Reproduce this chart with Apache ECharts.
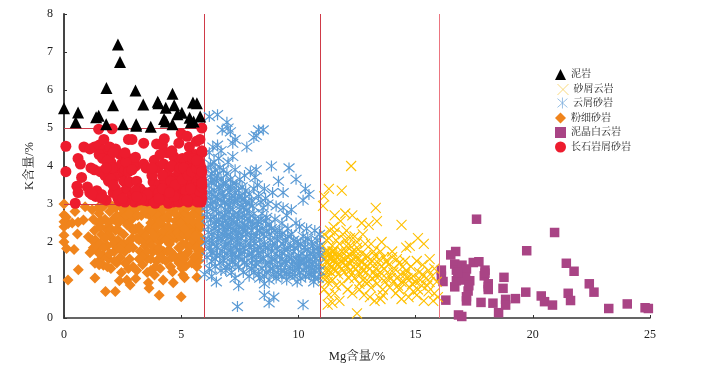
<!DOCTYPE html>
<html><head><meta charset="utf-8">
<script src="https://cdn.jsdelivr.net/npm/echarts@6/dist/echarts.min.js"></script>
<style>html,body{margin:0;background:#fff}#c{width:719px;height:368px}</style></head>
<body><div id="c"></div>
<script>
const xTicksMax = 25, yTicksMax = 8;
const mudstone = [[0,5.52],[.6,5.41],[.5,5.15],[1.37,5.28],[1.48,5.32],[1.8,5.1],[1.81,6.05],[2.09,5.6],[2.3,7.2],[2.39,6.74],[2.52,5.1],[3.05,5.99],[3.08,5.06],[3.08,5.1],[3.38,5.62],[3.7,5.03],[4,5.69],[4.03,5.65],[4.34,5.53],[4.27,5.24],[4.34,5.17],[4.63,5.9],[4.7,5.6],[4.63,5.1],[4.84,5.36],[5.03,5.4],[5.36,5.27],[5.41,5.15],[5.53,5.17],[5.5,5.67],[5.67,5.65],[5.81,5.3]];
const feldspar = [[.08,3.85],[.08,4.52],[.48,3.02],[.55,3.47],[.6,3.3],[.6,4.2],[.7,4.05],[.75,3.7],[.85,4.5],[1,3.45],[1.1,3.3],[1.1,4.45],[1.15,3.95],[1.3,4.5],[1.3,3.9],[1.35,3.2],[1.4,3.35],[1.48,4.97],[1.5,4.55],[1.55,3.85],[1.6,3.25],[1.7,4.42],[1.7,4.7],[1.75,3.75],[1.8,3.1],[1.85,4.35],[1.9,3.6],[1.9,3.85],[1.95,4.5],[2,4.1],[2.05,4.98],[2.1,3.3],[2.2,4.45],[2.25,3.95],[2.3,3.15],[2.35,3.08],[2.4,4.3],[2.45,4.05],[2.5,3.8],[2.55,3.6],[2.55,4.25],[2.6,3.9],[2.65,3.38],[2.7,4.22],[2.75,4.7],[2.8,3.58],[2.8,4.02],[2.9,4.7],[2.9,3.22],[3,3.05],[3.05,4],[3.05,4.23],[3.1,3.3],[3.2,3.1],[3.25,3.2],[3.4,4.6],[3.4,4.05],[3.45,3.3],[3.5,3.95],[3.55,3.08],[3.65,3.3],[3.7,3.2],[3.8,3.58],[3.85,4.15],[3.9,3.02],[3.95,4.58],[3.95,3.3],[4,3.95],[4.05,3.5],[4.1,3.1],[4.15,3.2],[4.2,4.55],[4.25,4.05],[4.28,4.72],[4.3,3.6],[4.3,3.3],[4.4,4.35],[4.45,3.02],[4.5,3.95],[4.55,3.15],[4.6,3.45],[4.65,3.05],[4.68,4.25],[4.75,3.3],[4.8,3.98],[4.85,4.05],[4.9,4.6],[4.9,3.3],[4.95,3.7],[5,4.85],[5.05,3.1],[5.05,4.2],[5.1,3.4],[5.15,4.1],[5.2,3.85],[5.25,3.55],[5.25,4.78],[5.3,3.05],[5.35,3.25],[5.35,4.5],[5.4,4.05],[5.45,3.65],[5.5,3.95],[5.55,3.1],[5.55,3.45],[5.6,4.3],[5.65,4.65],[5.7,3.25],[5.7,3.85],[5.75,3.55],[5.75,4.15],[5.8,4.7],[5.85,3.95],[5.85,3.05],[5.88,5],[5.88,3.3],[5.88,4.35],[5.86,3.65],[5.88,3.15],[5.88,4.4],[3.75,3.75],[3.1,3.6],[1.2,3.25],[2.2,3.4],[2.15,3.7],[4.1,4.3],[5,3.5],[5.15,3.2],[4.4,3.8],[4.7,3.7],[5.5,3.3],[5.6,3.7],[4.3,3.15],[3.6,3.15],[2.9,3.1],[2.6,3.05],[1.6,3.15],[5.8,3.2],[4.85,3.15],[1.5,4.3],[1.65,4.2],[1.85,4.15],[2.1,4.35],[2.05,3.95],[1.8,3.95],[2,3.65],[2.1,3.5],[2.3,3.25],[2.5,3.15],[2.65,4.1],[2.75,3.85],[2.6,4.35],[2.9,3.9],[3.25,3.4],[3.4,3.1],[3.05,3.35],[3.8,3.35],[3.85,3.05],[3.75,3.95],[4.05,3.3],[4.2,3.75],[4.55,3.6],[4.6,4],[4.75,3.5],[4.9,3.85],[4.95,3.95],[5.05,3.65],[5.1,3.95],[5.2,3.35],[5.3,3.75],[5.3,4.25],[5.45,3.15],[5.45,3.85],[5.5,4.2],[5.6,3.2],[5.65,3.95],[5.7,3.05],[5.75,3.35],[5.8,4.05],[5.85,3.75],[5.88,3.45],[5.88,3.85],[5.88,3.55],[5.65,4.15],[4.6,4.4],[4.4,3.1],[4.05,3.15],[3.55,3.25],[3.3,3.15],[4.9,3.05],[5.1,3.1],[5.4,3.4],[5.25,3.1],[4.7,3.2],[4.2,3.4],[3.1,3.2],[4.5,3.3]];
const siltFine = [[.17,1],[.61,1.27],[1.32,1.05],[1.77,.7],[2.19,.7],[2.36,.98],[2.68,1],[2.82,.87],[3.06,1.04],[3.6,.93],[3.63,.78],[3.86,1.13],[4.06,.6],[4.23,1],[4.66,.93],[5,.56],[5.14,1.06],[5.07,1.13],[5.67,1.07],[4.63,1.22],[4.81,1.54],[4.89,1.85],[5.03,1.31],[5.2,1.37],[5.67,1.35],[0,3],[0,2.71],[0,2.53],[0,2.18],[0,2],[.11,1.83],[.43,1.8],[.57,2.21],[0,2.4],[.18,2.49],[.47,2.8],[.9,2.93],[.83,2.58],[1.04,2.14],[1.11,1.72],[1.32,1.44],[1.54,1.53],[1.68,1.39],[.1,2.65],[.35,2.5],[.6,2.52],[1.2,2.85],[1.25,2.6],[1.3,2.3],[1.35,2.05],[1.4,1.8],[1.45,2.5],[1.5,2.75],[1.55,1.95],[1.6,2.2],[1.65,1.65],[1.7,2.95],[1.75,2.6],[1.8,2.35],[1.85,1.9],[1.9,1.55],[1.95,2.8],[2,1.3],[2.05,2.1],[2.15,1.75],[2.2,2.9],[2.25,1.45],[2.3,2.5],[2.35,2.3],[2.4,1.6],[2.45,1.2],[2.5,2.75],[2.55,1.95],[2.6,1.75],[2.62,2.55],[2.7,2.95],[2.75,1.3],[2.8,1.55],[2.85,2.4],[2.9,2.1],[2.95,1.85],[3,2.7],[3.05,2.35],[3.1,1.25],[3.15,2.95],[3.2,2.05],[3.25,1.75],[3.3,2.7],[3.35,1.4],[3.4,2.2],[3.45,1.9],[3.5,2.95],[3.55,1.55],[3.6,2.35],[3.65,2.7],[3.7,1.25],[3.75,2.05],[3.8,1.75],[3.85,2.5],[3.9,2.85],[3.95,1.5],[4,2.2],[4.05,2],[4.1,1.3],[4.15,2.7],[4.2,2.45],[4.25,1.75],[4.3,2.95],[4.35,1.5],[4.4,2.2],[4.45,2.6],[4.5,1.95],[4.55,1.35],[4.6,2.8],[4.65,2.35],[4.7,1.65],[4.75,2.55],[4.8,2.1],[4.85,2.95],[4.9,1.45],[4.95,2.7],[5,2.3],[5.05,1.95],[5.1,2.85],[5.15,1.55],[5.2,2.5],[5.25,2.15],[5.3,1.75],[5.35,2.95],[5.4,2.65],[5.45,1.45],[5.5,2.3],[5.55,1.9],[5.6,2.8],[5.65,2.5],[5.7,1.6],[5.75,2.1],[5.78,2.95],[5.78,1.8],[5.78,2.35],[5.8,2.65],[5.75,1.5],[5.8,2],[2.1,2.6],[2.4,2.95],[2.55,2.2],[2.9,2.6],[3.3,2.95],[3.6,2.05],[3.8,2.25],[4.2,2.1],[4.45,2.9],[4.7,2.9],[4.8,2.4],[5.1,2.6],[5.3,2.4],[5.5,2.7],[5.7,2.45],[5.7,2.9],[5.2,1.95],[5,1.65],[4.4,1.75],[4,1.75],[3.7,1.55],[3.4,1.65],[2.75,2],[2.3,2.05],[1.9,2.2],[2.05,2.95],[2.9,2.9],[3.9,2.65],[4.05,2.95],[4.6,2.05],[1.55,2.4],[1.9,2.5],[1.2,2.05],[1.25,1.85],[1.5,1.7],[1.6,2.55],[1.7,1.85],[1.75,2.1],[1.95,1.7],[2,2.35],[2.1,1.95],[2.2,2.3],[2.25,2.7],[2.3,1.85],[2.4,2.55],[2.45,1.9],[2.55,2.85],[2.65,2.7],[2.7,2.45],[2.8,2.75],[2.8,1.85],[2.95,2.3],[3.05,2.85],[3.1,2.1],[3.15,2.7],[3.2,2.4],[3.3,2.25],[3.35,2.05],[3.5,2.75],[3.5,2.15],[3.55,1.75],[3.7,2.9],[3.7,2.5],[3.75,1.9],[3.85,2.15],[3.95,2.4],[4,2.75],[4.05,1.85],[4.1,2.55],[4.15,1.6],[4.25,2.3],[4.3,2.65],[4.35,2.05],[4.45,2.4],[4.5,2.75],[4.55,2.2],[4.6,1.6],[4.7,2.2],[4.75,2.75],[4.85,2.25],[4.95,2.15],[5,2.5],[5,2.9],[5.1,2.2],[5.15,2.35],[5.2,2.75],[5.25,1.7],[5.35,2.2],[5.4,1.9],[5.45,2.5],[5.5,2.05],[5.55,1.6],[5.55,2.5],[5.65,2.2],[5.65,1.85],[5.75,2.7],[5.75,1.75],[5.78,2.15],[5.8,2.85],[5.8,2.45],[5.78,1.7],[4.95,1.85],[4.55,1.75],[4.2,1.55],[3.9,1.35],[3.55,1.2],[3.2,1.55],[2.95,1.35],[2.6,1.45],[2.4,1.8],[2.15,1.5],[1.85,1.35],[1.5,1.4],[1.45,2.9],[1.6,2.9],[2.6,2.95],[2.95,2.95],[3.45,2.85],[3.75,2.8],[4.2,2.85],[4.55,2.95],[5.25,2.9],[5.5,2.95],[5.6,2.15],[5.3,2.6],[5.78,2.55]];
const cuttings = [[6,1.15],[6.3,1.1],[6.5,.95],[6.9,1.25],[7.3,1.05],[7.45,.85],[7.4,.3],[8.1,1.2],[8.55,.9],[8.55,.6],[8.75,.4],[8.95,.55],[9.3,1.1],[10.2,.35],[10.65,.95],[6.2,5.3],[6.55,5.35],[6.95,5.15],[6.75,4.95],[7,5],[7.1,4.9],[7.3,4.7],[7.2,4.6],[7.8,4.5],[8.1,4.75],[8.3,4.95],[8.5,4.95],[8.2,4.8],[6.4,4.1],[6.6,4.2],[6.8,3.9],[7,4.1],[7.2,4.25],[7.3,3.9],[7.5,3.65],[7.7,3.75],[7.95,3.85],[8.2,3.9],[8.15,3.7],[8.85,4],[9.6,3.95],[9.9,3.65],[10.3,3.4],[10.45,3.25],[10.2,3.1],[6.2,4.35],[6.3,3.8],[6.5,3.6],[6.15,3.5],[6.45,3.9],[6.7,3.65],[6.9,3.55],[7.1,3.45],[7.3,3.3],[7.5,3.2],[7.75,3.35],[8,3.1],[8.3,3.2],[8.5,2.9],[8.7,3],[8.9,3.3],[9.05,2.95],[9.35,2.9],[9.5,2.7],[9.7,2.85],[6.1,3.1],[6.3,3.25],[6.55,3.15],[6.8,3.2],[7,3],[7.25,3.05],[7.55,2.95],[7.8,2.85],[8.1,2.75],[8.4,2.6],[8.6,2.55],[8.75,2.45],[9,2.6],[9.3,2.5],[10.05,2.4],[10.35,2.35],[10.7,2.3],[10.9,2.2],[6.1,2.8],[6.25,2.6],[6.5,2.85],[6.7,2.95],[6.85,2.7],[7.05,2.65],[7.2,2.85],[7.45,2.7],[7.6,2.5],[7.85,2.6],[8.05,2.45],[8.25,2.3],[8.5,2.2],[8.8,2.05],[9.1,2.15],[9.45,2.05],[9.7,2.2],[9.95,2],[10.2,2.15],[10.55,2],[10.8,1.85],[6.15,2.4],[6.3,2.2],[6.45,2.45],[6.6,2.3],[6.75,2.5],[6.95,2.35],[7.1,2.15],[7.3,2.3],[7.4,2.05],[7.6,2.2],[7.75,2.3],[7.95,2.1],[8.15,1.95],[8.35,2.05],[8.6,1.85],[8.85,1.75],[9.1,1.85],[9.3,1.7],[9.55,1.8],[9.8,1.75],[10,1.65],[10.25,1.85],[10.5,1.7],[10.75,1.55],[10.9,1.65],[6.05,2],[6.2,1.85],[6.35,2.05],[6.5,1.9],[6.7,2.1],[6.85,1.85],[7,1.95],[7.2,1.7],[7.35,1.85],[7.5,1.95],[7.7,1.75],[7.9,1.85],[8.05,1.6],[8.3,1.7],[8.5,1.55],[8.75,1.45],[9,1.55],[9.25,1.4],[9.5,1.5],[9.75,1.4],[10,1.35],[10.2,1.55],[10.45,1.35],[10.7,1.25],[10.85,1.05],[6.1,1.6],[6.3,1.5],[6.5,1.65],[6.65,1.45],[6.85,1.6],[7.05,1.4],[7.2,1.5],[7.45,1.35],[7.6,1.55],[7.8,1.4],[8,1.3],[8.2,1.45],[8.45,1.3],[8.65,1.2],[8.9,1.3],[9.15,1.15],[9.4,1.25],[9.6,1.15],[9.85,1.1],[10.05,1.2],[10.3,1.1],[10.55,1.15],[6.2,1.3],[6.45,1.35],[6.7,1.25],[6.95,1.35],[7.15,1.2],[7.65,1.2],[7.9,1.1],[8.35,1.05],[8.75,1],[9.05,1.05],[9.5,1],[9.95,.95],[6.1,2.65],[6.4,2.65],[6.6,2.6],[6.9,2.55],[7,2.8],[7.25,2.5],[7.5,2.4],[7.7,2.7],[7.95,2.55],[8.2,2.15],[8.45,2.35],[8.65,2.65],[9.2,2.3],[9.55,2.35],[9.9,2.5],[10.1,1.95],[10.4,2.1],[10.65,1.75],[6.25,3],[6.6,2.75],[6.8,2.4],[7.15,2.6],[7.35,2.45],[7.6,3.1],[7.9,3],[8.3,2.55],[8.7,1.65],[9,1.95],[9.35,1.95],[9.6,1.6],[9.9,1.55],[10.15,1.7],[10.35,1.6],[10.6,1.4],[10.85,1.4],[6.35,1.7],[6.55,2.15],[6.75,1.75],[6.95,2.15],[7.1,1.8],[7.3,1.6],[7.55,1.7],[7.75,2],[8,1.7],[8.15,1.35],[8.4,1.85],[8.6,1.4],[8.85,1.55],[9.1,1.35],[9.3,1.55],[9.65,1.3],[9.85,1.25],[10.1,1.45],[10.45,1.5],[10.7,1.05],[6.4,3.35],[6.65,3.4],[6.85,3.05],[7.05,3.3],[7.4,3.1],[7.65,2.9],[8.25,3.5],[8.55,3.4],[9.15,3.6],[9.35,3.3],[6.25,3.7],[6.7,4.4],[6.35,4.5],[6.55,4.55],[6.05,3.25],[6.1,2.95],[6.15,2.25],[6.2,2.05],[6.25,1.75],[6.3,1.95],[6.35,2.85],[6.4,2.35],[6.45,1.55],[6.45,3.05],[6.5,2.55],[6.55,1.85],[6.6,2.05],[6.65,2.45],[6.65,1.65],[6.7,3.1],[6.75,2.2],[6.75,2.65],[6.8,1.5],[6.85,2.25],[6.9,2.85],[6.9,1.95],[6.95,1.7],[7,2.45],[7,2.2],[7.05,3.1],[7.1,2.4],[7.1,2.9],[7.15,1.6],[7.15,2.05],[7.2,2.3],[7.25,2.7],[7.25,1.9],[7.3,3.15],[7.3,1.4],[7.35,2.15],[7.4,2.6],[7.45,2.25],[7.45,1.6],[7.5,2.85],[7.5,1.8],[7.55,2.1],[7.6,2.65],[7.65,1.85],[7.65,2.35],[7.7,1.45],[7.7,2.45],[7.75,3.05],[7.8,2.2],[7.85,1.65],[7.85,2.4],[7.9,2.75],[7.95,1.95],[8,2.3],[8,1.45],[8.05,2.95],[8.1,1.8],[8.1,2.1],[8.15,2.6],[8.2,1.55],[8.25,1.8],[8.25,2.45],[8.3,1.15],[8.35,2.3],[8.4,1.55],[8.45,2.75],[8.5,1.75],[8.55,2],[8.55,1.1],[8.65,2.3],[8.7,1.85],[8.75,2.2],[8.8,1.3],[8.85,2.35],[8.9,1.9],[8.95,1.15],[9,2.3],[9.05,1.7],[9.1,2.05],[9.2,1.6],[9.25,1.25],[9.3,2.2],[9.4,1.8],[9.45,1.45],[9.5,1.15],[9.55,2.15],[9.65,1.9],[9.7,1.55],[9.75,1.15],[9.8,2.05],[9.85,1.85],[9.95,1.4],[10,1.9],[10.05,1.5],[10.1,1.05],[10.2,1.25],[10.25,1.45],[10.3,2],[10.35,1.35],[10.4,1.8],[10.45,1.15],[10.5,1.55],[10.55,1.3],[10.6,1.9],[10.65,1.15],[10.7,1.6],[10.75,1.35],[10.8,2.05],[10.85,1.75],[10.9,1.25],[10.9,1.9],[6.15,3.95],[6.25,4.05],[6.3,3.55],[6.4,3.65],[6.45,3.2],[6.55,3.75],[6.6,3.45],[6.65,3.95],[6.75,3.3],[6.8,3.55],[6.95,3.8],[7,3.4],[7.1,3.65],[7.15,3.15],[7.2,3.55],[7.35,3.5],[7.45,3.35],[7.6,3.45],[7.7,3.15],[7.9,3.25],[8.1,3.4],[8.4,3.05],[8.6,3.15],[6.2,3.3],[6.35,3.05]];
const doloCuttings = [[11.05,2.95],[11.3,3.4],[11.1,3.2],[12.25,4],[11.85,3.35],[11.55,2.7],[12,2.75],[12.3,2.7],[12.7,2.5],[13,2.45],[13.3,2.9],[13.35,2.55],[14.4,2.45],[15.1,2.1],[15.35,1.95],[13.55,2],[14.6,1.85],[14.75,1.9],[11.5,2.4],[11.8,2.55],[12.05,2.3],[12.4,2.15],[12.75,2.2],[13.1,1.95],[13.5,1.75],[14,1.75],[11.1,2.2],[11.3,2.1],[11.55,2.25],[11.75,1.95],[12,2.05],[12.2,1.9],[12.5,1.85],[12.7,1.7],[12.95,1.6],[13.2,1.75],[13.45,1.55],[13.75,1.5],[14,1.6],[14.3,1.45],[14.55,1.5],[14.8,1.35],[15.05,1.5],[15.3,1.4],[15.55,1.25],[15.8,1.3],[11.05,1.9],[11.25,1.75],[11.45,1.9],[11.65,1.7],[11.85,1.75],[12.1,1.6],[12.3,1.5],[12.55,1.55],[12.8,1.4],[13.05,1.45],[13.3,1.3],[13.55,1.35],[13.8,1.2],[14.1,1.3],[14.35,1.15],[14.6,1.25],[14.9,1.1],[15.15,1.2],[15.45,1.05],[15.7,1.1],[15.9,.95],[11.05,1.65],[11.2,1.5],[11.4,1.6],[11.6,1.45],[11.8,1.5],[12,1.4],[12.2,1.25],[12.45,1.3],[12.65,1.15],[12.9,1.2],[13.15,1.05],[13.45,1.1],[13.7,.95],[13.95,1.05],[14.25,.85],[14.5,.95],[14.75,.8],[15,.95],[15.25,.85],[15.55,.7],[15.8,.65],[11.1,1.35],[11.3,1.25],[11.5,1.3],[11.7,1.15],[11.95,1.2],[12.15,1.05],[12.4,1.05],[12.6,.9],[12.85,.95],[13.1,.8],[13.35,.9],[13.6,.75],[13.9,.8],[14.15,.65],[14.4,.5],[14.7,.55],[15.05,.6],[15.35,.45],[11.05,1.05],[11.25,.95],[11.45,1],[11.6,.85],[11.85,.9],[12.1,.75],[12.3,.65],[12.6,.75],[12.8,.6],[13.05,.55],[13.25,.45],[13.5,.5],[11.1,.75],[11.3,.6],[11.55,.65],[11.75,.45],[11.45,.4],[11.25,.35],[12.5,.12],[11.15,1.75],[11.35,2.3],[11.6,2.05],[11.9,2.2],[12.2,2.1],[12.5,2],[12.85,1.95],[13.25,1.65],[13.65,1.3],[14.2,1.05],[14.45,1.35],[14.9,.7],[15.2,1],[15.5,.85],[15.6,1.55],[11.2,2.05],[11.5,1.75],[11.75,1.35],[12.05,1.75],[12.3,1.75],[12.6,1.4],[12.95,1.35],[13.2,1.2],[13.4,1.45],[13.75,1.05],[14.05,.95],[14.65,1.05],[11.3,1.4],[11.4,1.2],[11.55,1.55],[11.95,1.55],[12.15,1.45],[12.4,1.6],[12.75,1.25],[13,.95],[13.6,.6],[14.3,.75],[14.8,1.05],[11.1,1.15],[11.2,1.05],[11.35,1.7],[15.75,.45],[15.95,.55],[11.1,1.55],[11.15,1.25],[11.2,1.65],[11.25,1.45],[11.35,1.55],[11.4,1.35],[11.45,1.75],[11.5,1.5],[11.6,1.25],[11.65,1.6],[11.7,1.4],[11.8,1.65],[11.85,1.3],[11.9,1.45],[12.05,1.9],[12.1,1.35],[12.2,1.65],[12.25,1.15],[12.35,1.35],[12.45,1.75],[12.55,1.2],[12.7,1.5],[12.75,1],[12.9,1.65],[13.05,1.3],[13.15,1.5],[13.3,1.1],[13.5,1.2],[13.65,1.6],[13.85,1.4],[14.05,1.2],[14.2,1.55],[14.4,.95],[14.55,1.15],[14.85,.9],[15.1,.75],[15.3,1.15],[15.6,.95]];
const dolomite = [[17.6,2.6],[16.71,1.75],[16.5,1.66],[16.1,1.26],[16.17,.96],[16.29,.47],[16.67,1.42],[16.74,1.26],[16.98,1.39],[17.46,1.46],[17.7,1.48],[17.17,1.29],[17.96,1.26],[17.93,1.11],[18.77,1.07],[16.67,.82],[16.74,.98],[16.98,1],[17.13,1.07],[17.31,.98],[17.24,.71],[17.17,.45],[17.79,.41],[18.1,.9],[18.1,.75],[18.3,.39],[18.73,.78],[18.84,.49],[18.84,.34],[18.54,.14],[19.26,.51],[19.7,.68],[19.74,1.77],[20.36,.58],[20.5,.43],[20.84,.34],[20.93,2.25],[21.43,1.44],[21.76,1.23],[21.51,.65],[21.61,.46],[22.41,.9],[22.61,.68],[23.24,.25],[24.03,.37],[24.79,.27],[24.93,.25],[16.83,.08],[16.97,.04],[17.17,.56],[16.1,1.1],[16.8,1.2],[17.27,.85],[17.96,1.18],[18.1,.82]];
const redLines = [6, 10.95, 16];
const redBands = [5, 3];
const rocks = ['泥岩','砂屑云岩','云屑砂岩','粉细砂岩','泥晶白云岩','长石岩屑砂岩'];

const cross = 'path://M1 1L19 19M19 1L1 19';
const star = 'path://M1 2L19 18M19 2L1 18M10 0L10 20';
const serif = '"Liberation Serif","Noto Serif CJK SC","Noto Sans CJK SC",serif';
const chart = echarts.init(document.getElementById('c'), null, {renderer:'canvas'});
const ruleColor = '#cf3a48';
const ms = (d, name, symbol, size, style, z) => ({type:'scatter', name, data:d, symbol, symbolSize:size, itemStyle:Object.assign({opacity:1}, style), z, clip:false, animation:false, emphasis:{disabled:true}});
const series = [
  ms(mudstone, rocks[0], 'triangle', 12, {color:'#000'}, 7),
  ms(doloCuttings, rocks[1], cross, 10, {color:'none', borderColor:'#FFC000', borderWidth:1.1}, 3),
  ms(cuttings, rocks[2], star, 11, {color:'none', borderColor:'#5B9BD5', borderWidth:1.2}, 5),
  ms(siltFine, rocks[3], 'diamond', 11, {color:'#F0841C'}, 4),
  ms(dolomite, rocks[4], 'rect', 9.5, {color:'#A94485'}, 2),
  ms(feldspar, rocks[5], 'circle', 11, {color:'#ED1C2E'}, 6),
  {type:'scatter', data:[], z:8, silent:true, markLine:{silent:true, symbol:'none', animation:false, label:{show:false},
    lineStyle:{color:ruleColor, width:1, type:'solid', opacity:1},
    data:[...redLines.map((x,i)=>({xAxis:x, lineStyle:{color:i===2?'#ec7580':ruleColor, width:1, type:'solid'}})),
      ...redBands.map(y=>[{coord:[0,y]},{coord:[redLines[0],y]}])]}}
];
const legendTops = [69, 81.5, 95, 112.5, 127, 141.5];
const legendStyles = [{}, {borderWidth:.8, borderColor:'#F6CE5C'}, {borderWidth:.8, borderColor:'#7FB0DE'}, {}, {}, {}];
const legends = rocks.map((r,i)=>({orient:'vertical', left:555, top:legendTops[i], padding:0, itemWidth:11, itemHeight:11, selectedMode:false,
  itemGap:0, data:[r], itemStyle:legendStyles[i], textStyle:{fontSize:10, lineHeight:11, color:'#222', fontFamily:serif}}));
chart.setOption({
  animation:false, backgroundColor:'#fff',
  textStyle:{fontFamily:serif},
  grid:{left:64, right:69, top:14, bottom:50},
  legend:legends,
  xAxis:{type:'value', min:0, max:xTicksMax, interval:5, splitLine:{show:false},
    name:'Mg含量/%', nameLocation:'middle', nameGap:32, nameTextStyle:{fontSize:12.5, color:'#222', fontFamily:serif},
    axisLine:{onZero:false, lineStyle:{color:'#333', width:1.5}},
    axisTick:{inside:true, length:3, lineStyle:{color:'#333'}},
    axisLabel:{fontSize:12, color:'#222', margin:11, fontFamily:serif}},
  yAxis:{type:'value', min:0, max:yTicksMax, interval:1, splitLine:{show:false},
    name:'K含量/%', nameLocation:'middle', nameGap:28, nameTextStyle:{fontSize:12.5, color:'#222', fontFamily:serif},
    axisLine:{onZero:false, lineStyle:{color:'#444', width:2}},
    axisTick:{inside:true, length:3, lineStyle:{color:'#333'}},
    axisLabel:{fontSize:12, color:'#222', margin:11, fontFamily:serif}},
  series
});
</script></body></html>
